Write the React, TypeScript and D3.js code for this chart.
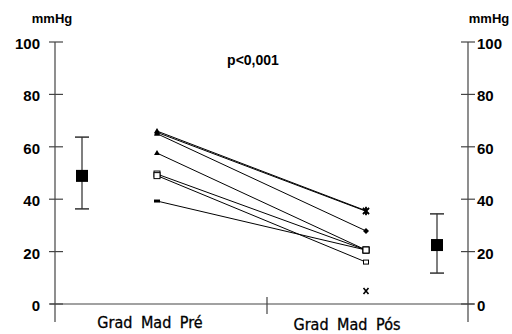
import React from 'react';
import * as d3 from 'd3';

// paired values (mmHg) before / after
const pre = [66, 65.5, 65, 57.6, 49.6, 49, 39.3];
const post = [35.6, 35.4, 27.9, 20.6, 20.6, 16, 20.6];
const preMarks = ['tri', 'tri', 'tri', 'tri', 'sq', 'sq', 'dash'];
const postMarks = ['star', 'star', 'dia', 'sq', 'sq', 'smallsq', 'sq'];
const loose = [5];
// mean and error bars
const means = [48.9, 22.5];
const highs = [63.7, 34.4];
const lows = [36.3, 11.8];
const categories = ['Grad Mad Pré', 'Grad Mad Pós'];
const ticks = [0, 20, 40, 60, 80, 100];

const W = 512;
const H = 334;
const left = 55;
const right = 468;
const font = 'Liberation Sans, Arial, sans-serif';
const narrow = '"Liberation Sans Narrow", "DejaVu Sans Condensed", Arial, sans-serif';

function Marker({ type, x, y }: { type: string; x: number; y: number }) {
  if (type === 'tri') return <path d={`M${x - 3},${y + 2}L${x + 3},${y + 2}L${x},${y - 3}Z`} fill="#000" />;
  if (type === 'sq') return <rect x={x - 3} y={y - 3} width={6} height={6} fill="#fff" stroke="#000" strokeWidth={1} />;
  if (type === 'smallsq') return <rect x={x - 2.5} y={y - 2} width={5} height={4} fill="#fff" stroke="#000" strokeWidth={1} />;
  if (type === 'dash') return <rect x={x - 3} y={y - 1.5} width={6} height={3} fill="#000" />;
  if (type === 'dia') return <path d={`M${x},${y - 3}L${x + 3},${y}L${x},${y + 3}L${x - 3},${y}Z`} fill="#000" />;
  if (type === 'x')
    return <path d={`M${x - 2.5},${y - 3}L${x + 2.5},${y + 3}M${x + 2.5},${y - 3}L${x - 2.5},${y + 3}`} stroke="#000" strokeWidth={1.6} />;
  // star
  return (
    <path
      d={`M${x - 3},${y - 3}L${x + 3},${y + 3}M${x + 3},${y - 3}L${x - 3},${y + 3}M${x},${y - 4}L${x},${y + 4}`}
      stroke="#000"
      strokeWidth={1.6}
    />
  );
}

export default function App() {
  const y = d3.scaleLinear().domain([0, 100]).range([304, 42]);
  const x = d3.scaleLinear().domain([0, 1]).range([157, 366]);
  const meanX = d3.scaleLinear().domain([0, 1]).range([82, 437]);
  const catX = d3.scaleLinear().domain([0, 1]).range([150, 347]);
  const line = d3.line<[number, number]>();

  return (
    <svg width={W} height={H} style={{ position: 'absolute', left: 0, top: 0, background: '#fff' }}>
      {/* axes */}
      <g stroke="#444" strokeWidth={1.2} fill="none">
        <line x1={left} x2={left} y1={y(100)} y2={322} />
        <line x1={right} x2={right} y1={y(100)} y2={322} />
        <line x1={50} x2={474} y1={y(0)} y2={y(0)} />
        <line x1={267} x2={267} y1={297} y2={314} />
        {ticks.map(t => (
          <g key={t}>
            <line x1={left - 6} x2={left + 8} y1={y(t)} y2={y(t)} />
            <line x1={right - 7} x2={right + 7} y1={y(t)} y2={y(t)} />
          </g>
        ))}
      </g>
      <g fontFamily={font} fontWeight="bold" fontSize={15} fill="#000">
        {ticks.map(t => (
          <g key={t}>
            <text x={40} y={y(t) + 7} textAnchor="end">{t}</text>
            <text x={477} y={y(t) + 7}>{t}</text>
          </g>
        ))}
        <text x={52} y={23} fontSize={13} textAnchor="middle">mmHg</text>
        <text x={489} y={23} fontSize={13} textAnchor="middle">mmHg</text>
        <text x={253} y={65} fontSize={14} textAnchor="middle">p&lt;0,001</text>
      </g>
      {/* paired lines */}
      <g>
        {pre.map((v, i) => (
          <path
            key={i}
            d={line([[x(0), y(v)], [x(1), y(post[i])]]) || ''}
            stroke="#000"
            strokeWidth={1}
            fill="none"
          />
        ))}
        {pre.map((v, i) => (
          <Marker key={'a' + i} type={preMarks[i]} x={x(0)} y={y(v)} />
        ))}
        {post.map((v, i) => (
          <Marker key={'b' + i} type={postMarks[i]} x={x(1)} y={y(v)} />
        ))}
        {loose.map((v, i) => (
          <Marker key={'c' + i} type="x" x={x(1)} y={y(v)} />
        ))}
      </g>
      {/* mean +/- sd */}
      {means.map((m, i) => (
        <g key={i}>
          <line x1={meanX(i)} x2={meanX(i)} y1={y(highs[i])} y2={y(lows[i])} stroke="#555" strokeWidth={1.5} />
          <line x1={meanX(i) - 7} x2={meanX(i) + 7} y1={y(highs[i])} y2={y(highs[i])} stroke="#333" strokeWidth={1.5} />
          <line x1={meanX(i) - 7} x2={meanX(i) + 7} y1={y(lows[i])} y2={y(lows[i])} stroke="#333" strokeWidth={1.5} />
          <rect x={meanX(i) - 6} y={y(m) - 6} width={12} height={12} fill="#000" />
        </g>
      ))}
      <g fontFamily={narrow} fontSize={16} fill="#000" stroke="#000" strokeWidth={0.3} wordSpacing={4}>
        {categories.map((c, i) => (
          <text key={c} x={catX(i)} y={328 + i * 2} textAnchor="middle">{c}</text>
        ))}
      </g>
    </svg>
  );
}
